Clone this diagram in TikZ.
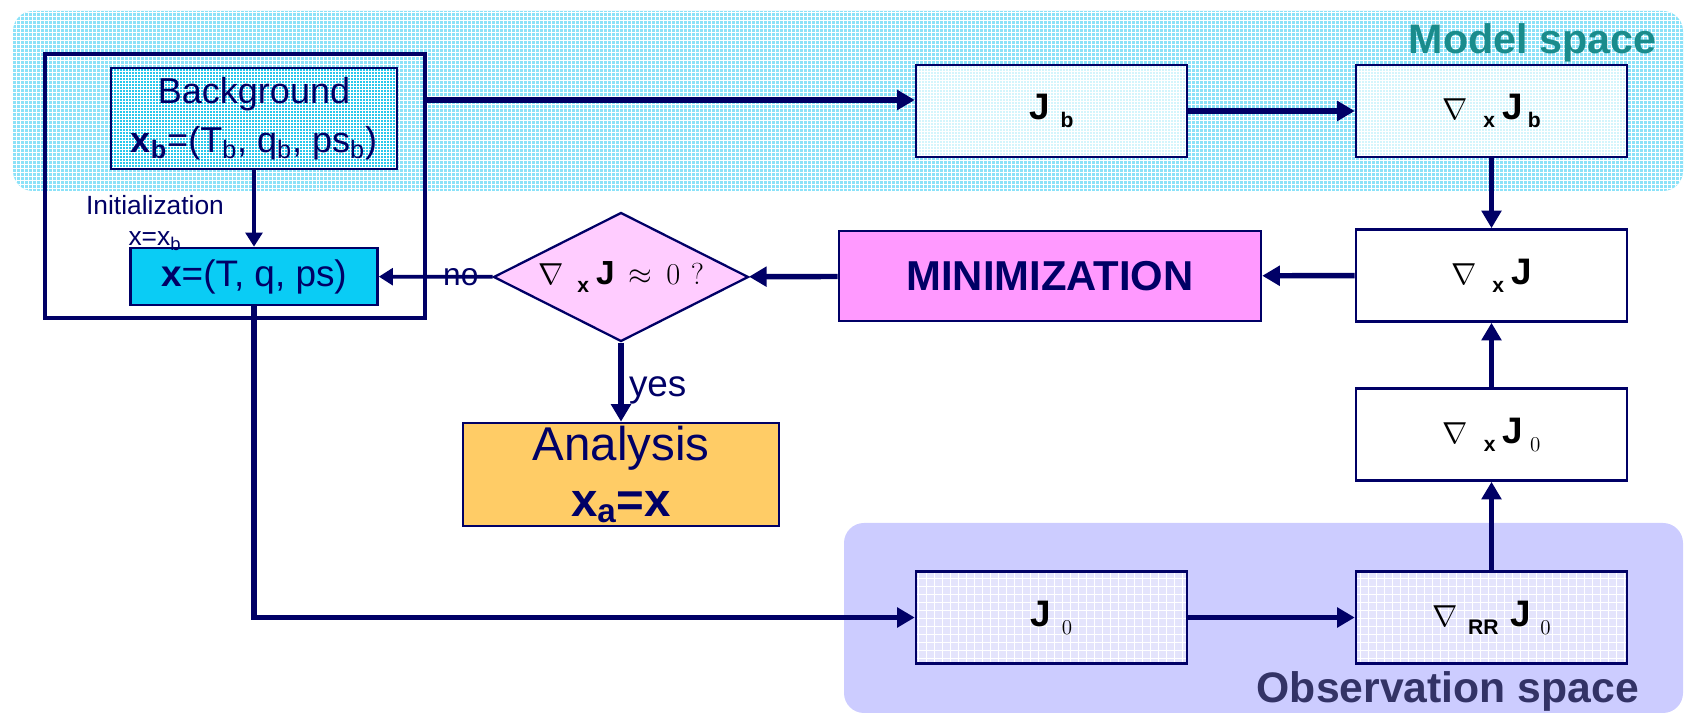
\documentclass[tikz,border=0pt]{standalone}
\usepackage{fontspec}
\setmainfont{Liberation Sans}
\usetikzlibrary{arrows.meta,shapes.geometric}

\definecolor{navy}{RGB}{0,0,102}
\definecolor{modelcyan}{RGB}{140,226,248}
\definecolor{modeltext}{RGB}{26,140,140}
\definecolor{obsblue}{RGB}{204,204,255}
\definecolor{obstext}{RGB}{51,51,102}
\definecolor{bgcyan}{RGB}{40,200,236}
\definecolor{xcyan}{RGB}{10,204,245}
\definecolor{jbfill}{RGB}{212,245,252}
\definecolor{jofill}{RGB}{228,228,252}
\definecolor{minifill}{RGB}{255,153,255}
\definecolor{testfill}{RGB}{255,204,255}
\definecolor{anafill}{RGB}{255,204,102}

% gradient symbols and lowered indices
\newcommand{\nab}{{\fontsize{17}{17}\selectfont$\nabla$}}
\newcommand{\bJ}{{\fontsize{21}{21}\selectfont\bfseries J}}
\newcommand{\lowsf}[1]{\raisebox{-4.5pt}{\fontsize{12}{12}\selectfont\bfseries #1}}
\newcommand{\lowrm}[1]{\raisebox{-4.5pt}{\fontsize{13}{13}\selectfont$#1$}}

\tikzset{
  box/.style={draw=navy, line width=1.5pt, minimum width=5.42cm, minimum height=1.84cm, inner sep=0pt},
  arr/.style={navy, line width=3.1pt, -{Triangle[length=10pt,width=11pt]}},
  thinarr/.style={navy, line width=2.1pt, -{Triangle[length=8pt,width=9.5pt]}},
  gridfill/.style 2 args={path picture={
    \draw[white, line width=#2, step=#1] (path picture bounding box.south west) grid (path picture bounding box.north east);}},
}

\begin{document}
\begin{tikzpicture}[x=0.02cm, y=-0.02cm]
\useasboundingbox (0,0) rectangle (1684,715);

% the two spaces
\path[fill=modelcyan, rounded corners=0.4cm, gridfill={0.8mm}{0.5pt}] (13,11) rectangle (1683,191);
\path[fill=obsblue, rounded corners=0.4cm] (844,523) rectangle (1683,713);
\node[anchor=base east, text=modeltext, font=\fontsize{23.5}{28}\selectfont\bfseries] (modellab) at (1663,54) {Model space};
\node[anchor=base east, text=obstext, font=\fontsize{24.3}{28}\selectfont\bfseries] (obslab) at (1645,703) {Observation space};

% initialization block
\node[draw=navy, line width=2.8pt, minimum width=7.6cm, minimum height=5.28cm] (init) at (235,186) {};
\node[box, fill=bgcyan, gridfill={0.6mm}{0.35pt}, minimum width=5.72cm, minimum height=2.02cm, align=center, text=navy, font=\fontsize{20.5}{28}\selectfont] (bg) at (254,118.5)
  {Background\\\textbf{x}\textsubscript{\textbf{b}}=(T\textsubscript{b}, q\textsubscript{b}, ps\textsubscript{b})};
\node[box, fill=xcyan, minimum width=4.94cm, minimum height=1.14cm, text=navy, font=\fontsize{21}{24}\selectfont] (xbox) at (254,276.5) {\textbf{x}=(T, q, ps)};
\node[align=center, text=navy, inner sep=0pt, font=\fontsize{15}{18}\selectfont] (initlab) at (155,223) {Initialization\\x=x\textsubscript{b}};

% loop (zero-width label so the diamond keeps its size)
\node[diamond, draw=navy, line width=1.3pt, fill=testfill, minimum width=5.1cm, minimum height=2.58cm, inner sep=0pt] (test) at (621,277)
  {\makebox[0pt]{\nab\hspace{8pt}\lowsf{x}\hspace{4pt}{\fontsize{19}{19}\selectfont\bfseries J}\hspace{8pt}{\fontsize{16}{16}\selectfont$\approx$\hspace{8pt}$0$\hspace{6pt}$?$}}};
\node[box, fill=minifill, minimum width=8.44cm, minimum height=1.8cm, text=navy, font=\fontsize{23.8}{28}\selectfont\bfseries] (mini) at (1050,276) {MINIMIZATION};
\node[box, fill=anafill, minimum width=6.32cm, minimum height=2.06cm, align=center, text=navy, font=\fontsize{27}{32}\selectfont] (ana) at (621,474.5)
  {Analysis\\\textbf{x\textsubscript{a}=x}};

% cost function terms
\node[box, fill=jbfill, gridfill={0.6mm}{0.4pt}] (Jb) at (1051.5,111) {\bJ\hspace{6pt}\lowsf{b}};
\node[box, fill=jbfill, gridfill={0.6mm}{0.4pt}] (gJb) at (1491.5,111) {\nab\hspace{9pt}\lowsf{x}\hspace{4pt}\bJ\hspace{3pt}\lowsf{b}};
\node[box, fill=white] (gJ) at (1491.5,275.5) {\nab\hspace{9pt}\lowsf{x}\hspace{4pt}\bJ};
\node[box, fill=white] (gJo) at (1491.5,434.5) {\nab\hspace{9pt}\lowsf{x}\hspace{4pt}\bJ\hspace{4pt}\lowrm{0}};
\node[box, fill=jofill, gridfill={1.6mm}{0.4pt}] (Jo) at (1051.5,617.5) {\bJ\hspace{6pt}\lowrm{0}};
\node[box, fill=jofill, gridfill={1.6mm}{0.4pt}] (gRR) at (1491.5,617.5) {\nab\hspace{6pt}\lowsf{RR}\hspace{7pt}\bJ\hspace{5pt}\lowrm{0}};

% connectors
\coordinate (jbin) at ([yshift=2.2mm]Jb.west);
\draw[arr] (init.east |- jbin) -- (jbin);
\draw[arr] (Jb) -- (gJb);
\draw[arr] (gJb) -- (gJ);
\draw[arr] (gJ) -- (mini);
\draw[arr] (mini) -- (test);
\draw[thinarr] (bg) -- (xbox);
\draw[thinarr] (test) -- node[pos=0.28, inner sep=0pt, text=navy, font=\fontsize{18}{18}\selectfont] {no} (xbox);
\draw[arr] (test) -- node[pos=0.6, right, inner sep=3pt, text=navy, font=\fontsize{21}{21}\selectfont] {yes} (ana);
\draw[arr] (xbox.south) |- (Jo.west);
\draw[arr] (Jo) -- (gRR);
\draw[arr] (gRR) -- (gJo);
\draw[arr] (gJo) -- (gJ);

\end{tikzpicture}
\end{document}
